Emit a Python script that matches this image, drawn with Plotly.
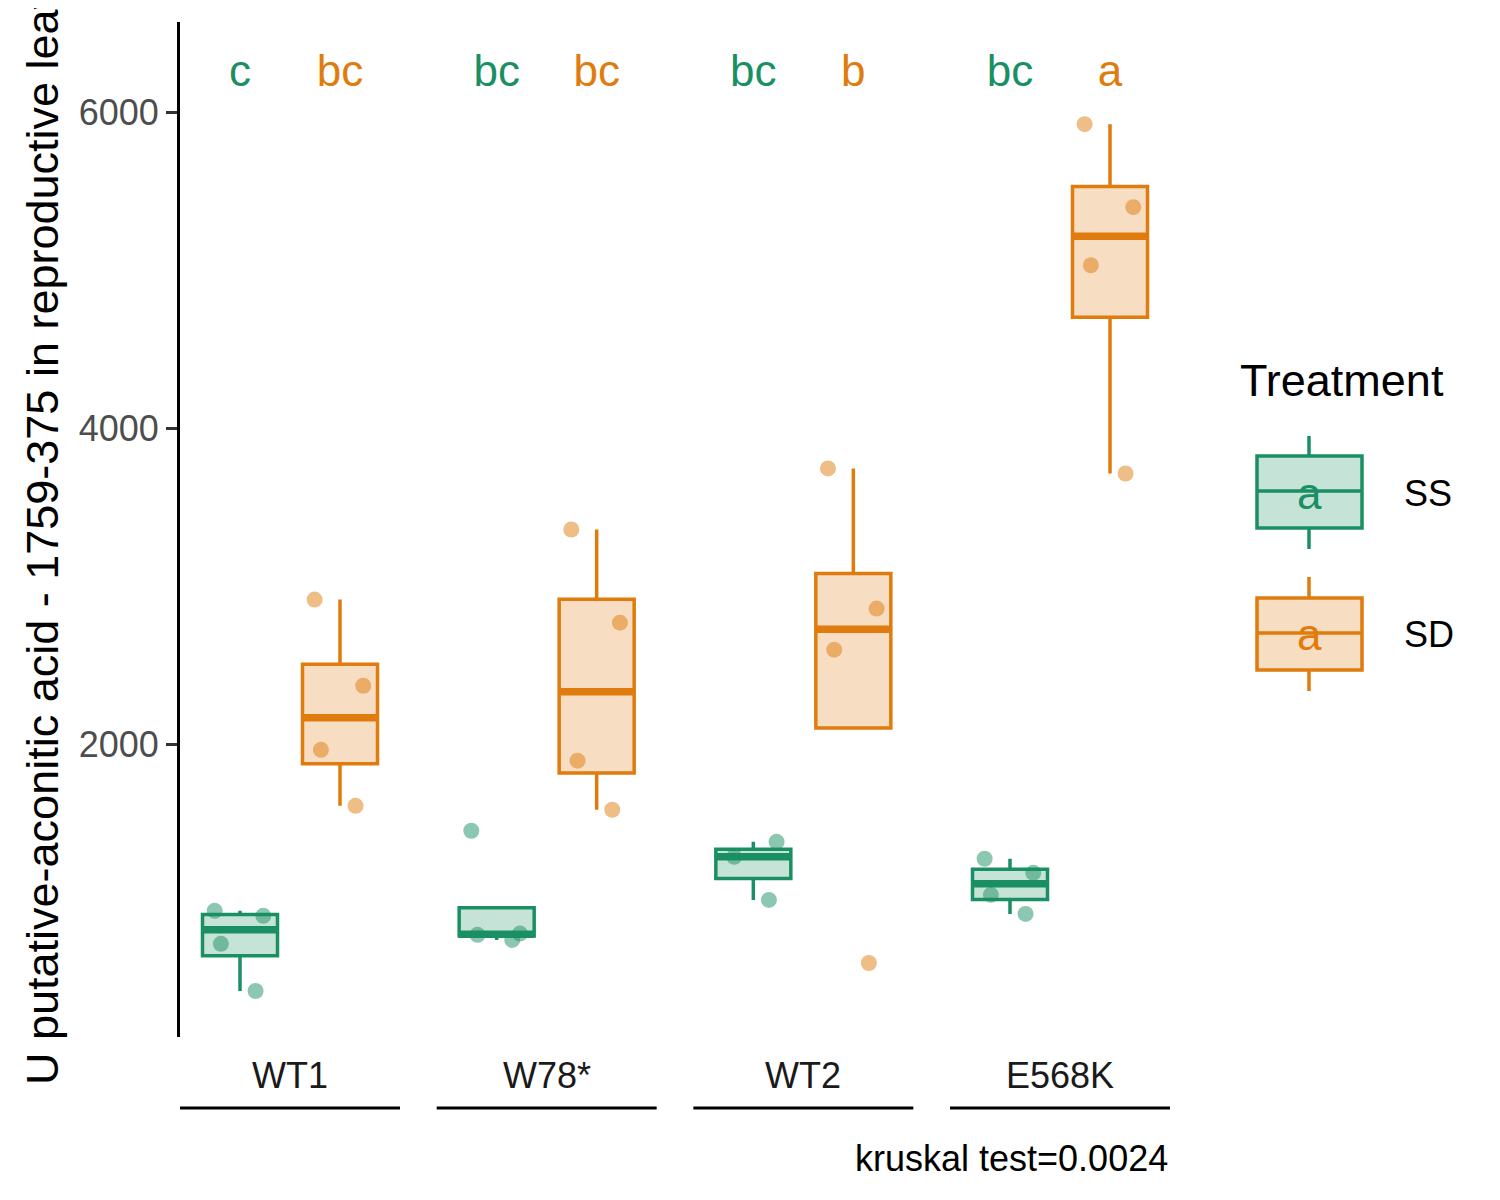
import numpy as np
import plotly.graph_objects as go

# ---------------- data ----------------
genotypes = ["WT1", "W78*", "WT2", "E568K"]
treatments = ["SS", "SD"]

ss_values = {
    "WT1": [443, 741, 918, 950],
    "W78*": [766, 798, 806, 1456],
    "WT2": [1019, 1291, 1386],
    "E568K": [930, 1051, 1190, 1279],
}
sd_values = {
    "WT1": [1614, 1968, 2373, 2918],
    "W78*": [1589, 1899, 2772, 3361],
    "WT2": [620, 2601, 2861, 3747],
    "E568K": [3715, 5032, 5399, 5924],
}
ss_letters = ["c", "bc", "bc", "bc"]
sd_letters = ["bc", "bc", "b", "a"]
letter_y = 6235
y_ticks = [2000, 4000, 6000]
kruskal_label = "kruskal test=0.0024"
y_title = "U putative-aconitic acid - 1759-375 in reproductive leaves"

# ---------------- styling ----------------
OFF = 8  # page body margin
W, H = 1500 - OFF, 1200 - OFF
FONT = "Liberation Sans, Arial, Helvetica, sans-serif"
line_col = {"SS": "#1A8F63", "SD": "#E07B0E"}
fill_col = {"SS": "rgba(26,143,99,0.25)", "SD": "rgba(224,123,14,0.25)"}
pt_col = {"SS": "rgba(26,143,99,0.5)", "SD": "rgba(224,123,14,0.5)"}
xpos = {"SS": 1, "SD": 2}
BOX_W = 0.75

panel_left = [180, 436.67, 693.33, 950]
panel_w = 220
y_top_px, y_bot_px = 22, 1037


def px_x(p):
    return (p - OFF) / W


def px_y(p):
    return 1 - (p - OFF) / H


def box_stats(vals):
    v = np.sort(np.asarray(vals, dtype=float))
    q1, med, q3 = np.percentile(v, [25, 50, 75])
    iqr = q3 - q1
    lo_f, hi_f = q1 - 1.5 * iqr, q3 + 1.5 * iqr
    inside = v[(v >= lo_f) & (v <= hi_f)]
    lw = min(q1, inside.min())
    uw = max(q3, inside.max())
    return q1, med, q3, lw, uw


fig = go.Figure()
layout_axes = {}
for i, g in enumerate(genotypes):
    sfx = "" if i == 0 else str(i + 1)
    xa, ya = "x" + sfx, "y" + sfx
    for t in treatments:
        vals = ss_values[g] if t == "SS" else sd_values[g]
        q1, med, q3, lw, uw = box_stats(vals)
        # jittered points (under boxes)
        fig.add_trace(go.Box(
            x=[xpos[t]] * len(vals), y=vals, xaxis=xa, yaxis=ya,
            boxpoints="all", jitter=0.8, pointpos=0, width=BOX_W,
            fillcolor="rgba(0,0,0,0)", line=dict(width=0, color="rgba(0,0,0,0)"),
            marker=dict(color=pt_col[t], size=16, line=dict(width=0)),
            hoverinfo="skip", showlegend=False,
        ))
        # box
        fig.add_trace(go.Box(
            x=[xpos[t]], q1=[q1], median=[med], q3=[q3],
            lowerfence=[lw], upperfence=[uw], xaxis=xa, yaxis=ya,
            width=BOX_W, whiskerwidth=0, boxpoints=False,
            fillcolor=fill_col[t], line=dict(width=3.5, color=line_col[t]),
            hoverinfo="skip", showlegend=False,
        ))
        # thick median line
        fig.add_trace(go.Box(
            x=[xpos[t]], q1=[med], median=[med], q3=[med],
            lowerfence=[med], upperfence=[med], xaxis=xa, yaxis=ya,
            width=BOX_W, whiskerwidth=0, boxpoints=False,
            fillcolor="rgba(0,0,0,0)", line=dict(width=7.5, color=line_col[t]),
            hoverinfo="skip", showlegend=False,
        ))
    # letters
    fig.add_trace(go.Scatter(
        x=[xpos["SS"], xpos["SD"]], y=[letter_y, letter_y],
        text=[ss_letters[i], sd_letters[i]], mode="text",
        textfont=dict(size=44, family=FONT, color=[line_col["SS"], line_col["SD"]]),
        xaxis=xa, yaxis=ya, hoverinfo="skip", showlegend=False,
    ))
    d0 = px_x(panel_left[i])
    d1 = px_x(panel_left[i] + panel_w)
    layout_axes["xaxis" + sfx] = dict(
        domain=[d0, d1], range=[0.4, 2.6], anchor=ya, showgrid=False,
        zeroline=False, showline=False, showticklabels=False, ticks="",
        fixedrange=True,
    )
    yax = dict(
        domain=[px_y(y_bot_px), px_y(y_top_px)], range=[152, 6570], anchor=xa,
        showgrid=False, zeroline=False, fixedrange=True,
    )
    if i == 0:
        yax.update(
            showline=True, linecolor="black", linewidth=3,
            ticks="outside", ticklen=11, tickwidth=2.5, tickcolor="#333333",
            tickvals=y_ticks, ticktext=[str(v) for v in y_ticks],
            tickfont=dict(size=36, family=FONT, color="#4D4D4D"),
        )
    else:
        yax.update(matches="y", showline=False, showticklabels=False, ticks="")
    layout_axes["yaxis" + sfx] = yax

fig.update_layout(**layout_axes)

annotations = []
shapes = []
# strip labels and lines below
for i, g in enumerate(genotypes):
    sfx = "" if i == 0 else str(i + 1)
    annotations.append(dict(
        text=g, xref="x" + sfx + " domain", x=0.5, yref="paper", y=px_y(1075),
        xanchor="center", yanchor="middle", showarrow=False,
        font=dict(size=36, family=FONT, color="#1A1A1A"),
    ))
    shapes.append(dict(
        type="line", xref="x" + sfx + " domain", x0=0, x1=1,
        yref="paper", y0=px_y(1108), y1=px_y(1108),
        line=dict(color="black", width=3),
    ))

# y title
annotations.append(dict(
    text=y_title, textangle=-90, xref="paper", x=px_x(42), yref="paper",
    y=px_y(1087), xanchor="center", yanchor="bottom", showarrow=False,
    font=dict(size=45, family=FONT, color="black"),
))
# caption
annotations.append(dict(
    text=kruskal_label, xref="paper", x=px_x(1170), yref="paper", y=px_y(1158),
    xanchor="right", yanchor="middle", showarrow=False,
    font=dict(size=36, family=FONT, color="black"),
))

# legend (drawn manually)
annotations.append(dict(
    text="Treatment", xref="paper", x=px_x(1238), yref="paper", y=px_y(380),
    xanchor="left", yanchor="middle", showarrow=False,
    font=dict(size=45, family=FONT, color="black"),
))
legend_keys = {"SS": (436, 456, 491, 528, 549), "SD": (577, 598, 633, 670, 691)}
for t in treatments:
    wt, bt, md, bb, wb = legend_keys[t]
    shapes.append(dict(type="line", xref="paper", yref="paper",
                       x0=px_x(1309), x1=px_x(1309), y0=px_y(wt), y1=px_y(bt),
                       line=dict(color=line_col[t], width=3.5)))
    shapes.append(dict(type="line", xref="paper", yref="paper",
                       x0=px_x(1309), x1=px_x(1309), y0=px_y(bb), y1=px_y(wb),
                       line=dict(color=line_col[t], width=3.5)))
    shapes.append(dict(type="rect", xref="paper", yref="paper",
                       x0=px_x(1257), x1=px_x(1362), y0=px_y(bb), y1=px_y(bt),
                       fillcolor=fill_col[t], line=dict(color=line_col[t], width=3.5)))
    shapes.append(dict(type="line", xref="paper", yref="paper",
                       x0=px_x(1257), x1=px_x(1362), y0=px_y(md), y1=px_y(md),
                       line=dict(color=line_col[t], width=3.5)))
    annotations.append(dict(
        text="a", xref="paper", x=px_x(1309), yref="paper", y=px_y(md + 2),
        xanchor="center", yanchor="middle", showarrow=False,
        font=dict(size=44, family=FONT, color=line_col[t]),
    ))
    annotations.append(dict(
        text=t, xref="paper", x=px_x(1402), yref="paper", y=px_y(md + 2),
        xanchor="left", yanchor="middle", showarrow=False,
        font=dict(size=36, family=FONT, color="black"),
    ))

fig.update_layout(
    width=W, height=H, margin=dict(l=0, r=0, t=0, b=0),
    paper_bgcolor="white", plot_bgcolor="white", showlegend=False,
    annotations=annotations, shapes=shapes, boxmode="overlay",
    font=dict(family=FONT),
)
fig.write_html("out.html")
